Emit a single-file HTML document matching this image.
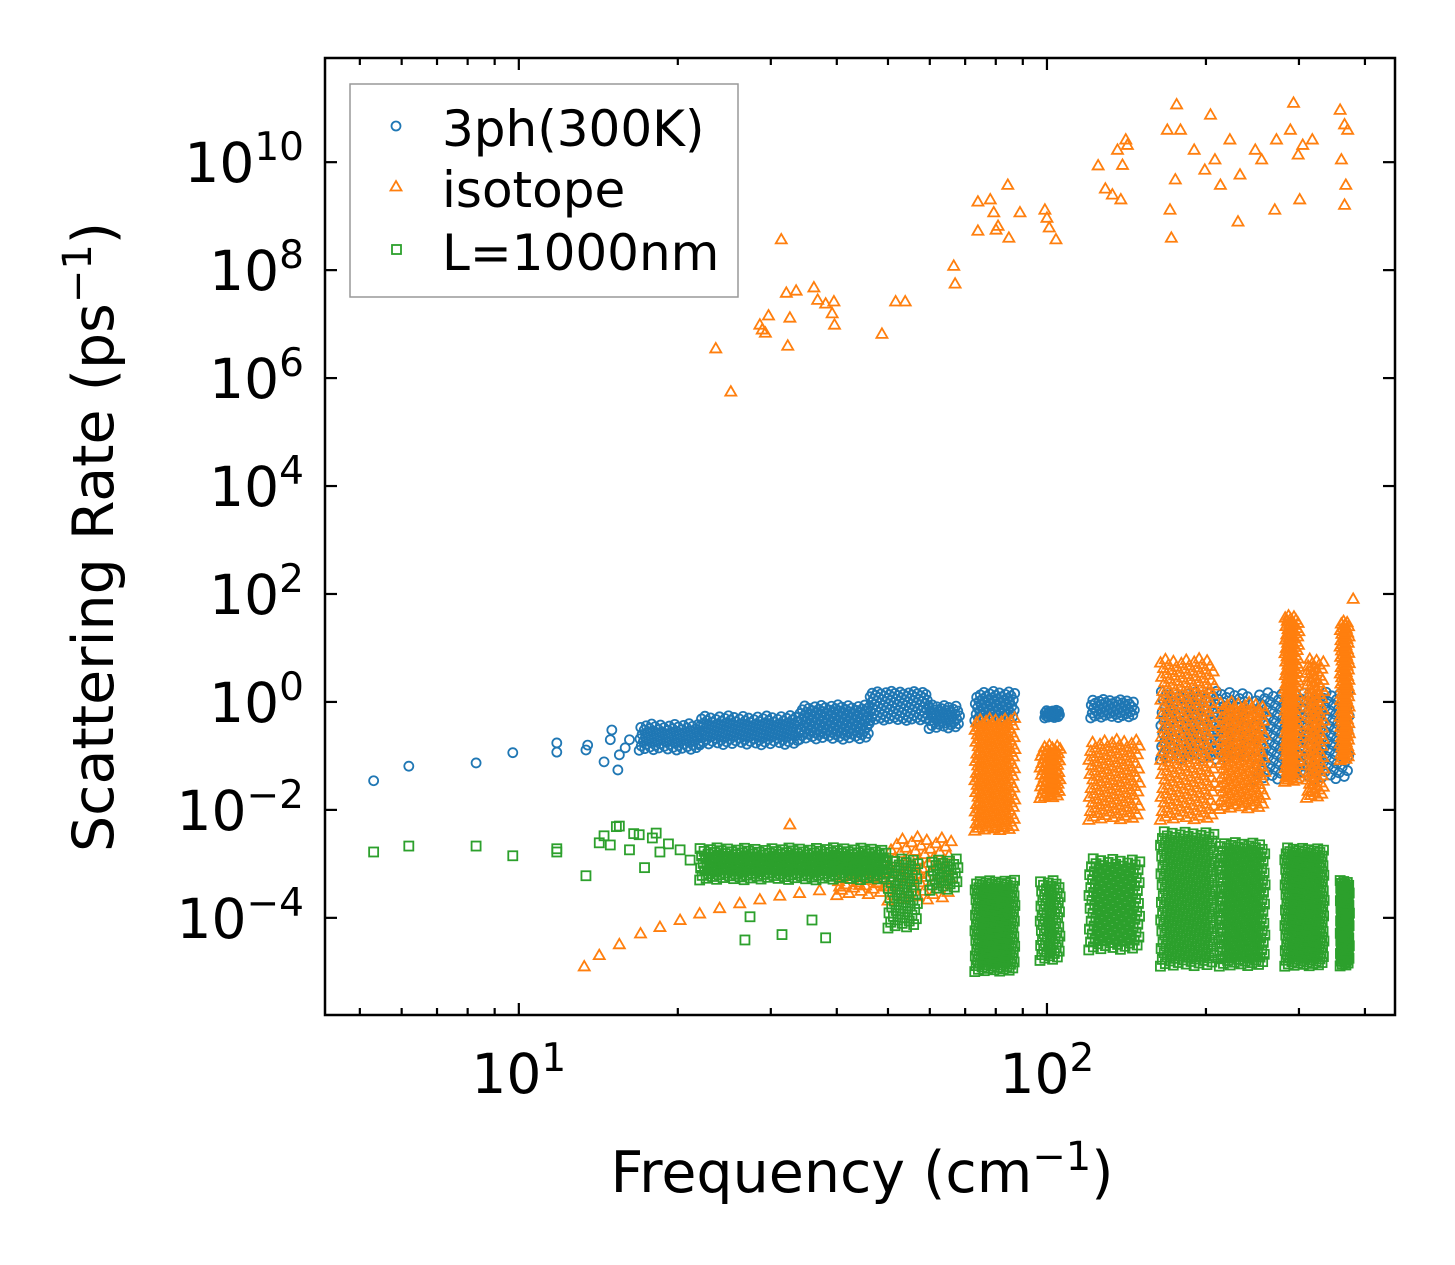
<!DOCTYPE html>
<html><head><meta charset="utf-8"><style>
html,body{margin:0;padding:0;background:#fff;}
svg{display:block;font-family:"DejaVu Sans","Liberation Sans",sans-serif;}
</style></head><body>
<svg id="chart" width="1455" height="1265" viewBox="0 0 1455 1265" xmlns="http://www.w3.org/2000/svg">
<rect x="0" y="0" width="1455" height="1265" fill="#fff"/>
<g id="marks"></g>
<g id="axes"></g>
<text x="0" y="0" transform="translate(113,537) rotate(-90)" text-anchor="middle" font-size="57">Scattering Rate (ps<tspan dy="-22" font-size="40">−1</tspan><tspan dy="22">)</tspan></text>
<text x="862" y="1192" text-anchor="middle" font-size="57">Frequency (cm<tspan dy="-22" font-size="40">−1</tspan><tspan dy="22">)</tspan></text>
<g>
<rect x="350" y="84" width="388" height="213" fill="#fff" stroke="#999" stroke-width="1.5"/>
<circle cx="396" cy="126" r="4.5" fill="none" stroke="#1f77b4" stroke-width="1.8"/>
<text x="442" y="146" font-size="50">3ph(300K)</text>
<polygon points="396,181 401.5,190.5 390.5,190.5" fill="none" stroke="#ff7f0e" stroke-width="1.8"/>
<text x="442" y="207" font-size="50">isotope</text>
<rect x="392" y="245" width="9" height="9" fill="none" stroke="#2ca02c" stroke-width="1.8"/>
<text x="442" y="270" font-size="50">L=1000nm</text>
</g>
</svg>
<script>
// ---- data (frequency cm^-1, log10 rate) ----
const xTickLabels = [1, 2];
const yTickExps = [-4, -2, 0, 2, 4, 6, 8, 10];
const blueFreq = [5.31,6.19,8.30,9.74,11.8,11.8,13.4,13.5,14.5,14.9,15.0,15.4,15.5,15.9,16.2];
const blueLog  = [-1.46,-1.19,-1.13,-0.94,-0.76,-0.93,-0.89,-0.80,-1.11,-0.70,-0.52,-1.26,-0.98,-0.85,-0.70];
// dense clusters: [fLo, fHi, logLo, logHi, count]
const blueBands = [[16.9,22,-0.9,-0.4,80],[22,34,-0.8,-0.25,140],[34,46.2,-0.7,-0.05,120],[46.2,59.8,-0.35,0.2,110],[59.8,68.5,-0.5,-0.05,40],[73,87,-0.35,0.2,60],[99,106,-0.3,-0.15,20],[121,147,-0.3,0.05,50],[164,242,-1.07,0.2,180],[248,374,-1.45,0.2,200]];
const orangeFreq = [23.6,25.2,31.4,28.9,28.6,29.3,29.7,32.6,32.1,33.5,32.3,36.2,36.8,38.1,39.5,39.6,39.2,48.7,51.7,53.9,66.6,67.0,74.0,74.0,78.1,79.3,80.1,80.8,84.3,84.7,88.9,99.1,100,101,104,125,129,133,136,138,139,141,142,169,171,172,175,176,179,190,199,204,208,213,222,230,232,248,255,270,272,289,293,299,301,305,318,359,361,366,368,366,371,
 13.3,14.2,15.5,17.0,18.5,20.2,22.0,24.0,26.2,28.6,31.2,34.0,37.1,40.5,44.2,48.2,52.6,57.4,62.6,32.6,380];
const orangeLog = [6.54,5.74,8.56,6.89,6.98,6.83,7.15,7.11,7.57,7.61,6.59,7.67,7.44,7.37,7.41,6.98,7.19,6.81,7.41,7.41,8.07,7.74,9.26,8.72,9.30,9.06,8.74,8.81,9.57,8.59,9.06,9.11,8.96,8.78,8.56,9.93,9.50,9.39,10.22,9.30,9.94,10.41,10.31,10.59,9.11,8.59,9.67,11.06,10.59,10.22,9.85,10.87,10.04,9.57,10.41,8.89,9.76,10.22,10.04,9.11,10.41,10.59,11.09,10.13,9.30,10.31,10.41,10.96,10.04,10.69,9.57,9.20,10.59,
 -4.91,-4.7,-4.5,-4.3,-4.18,-4.05,-3.93,-3.83,-3.74,-3.67,-3.6,-3.55,-3.5,-3.43,-3.4,-3.35,-3.25,-3.2,-3.05,-2.28,1.9];
const orangeBands = [[40,50,-3.6,-3.0,30],[50,66,-3.7,-2.5,60],[73,87,-2.4,-0.3,200],[97,106,-1.8,-0.8,60],[120,150,-2.2,-0.7,120],[164,208,-2.2,0.8,240],[212,259,-2.0,0.0,160],[282,300,-1.5,1.6,160],[310,335,-1.8,0.8,100],[359,374,-1.1,1.5,110]];
const greenFreq = [5.31,6.19,8.30,9.74,11.8,11.8,13.4,14.2,14.5,14.9,15.3,15.5,16.2,16.5,16.9,17.3,17.9,18.2,18.5,19.2,20.2,21.1,26.8,27.4,31.5,35.9,38.1];
const greenLog  = [-2.78,-2.67,-2.67,-2.85,-2.78,-2.72,-3.22,-2.61,-2.48,-2.65,-2.31,-2.30,-2.74,-2.44,-2.46,-3.07,-2.52,-2.43,-2.78,-2.63,-2.74,-2.93,-4.41,-3.98,-4.31,-4.04,-4.37];
const greenBands = [[22,50,-3.3,-2.7,240],[50,57,-4.2,-2.9,60],[60,68,-3.5,-2.9,30],[73,87,-5.0,-3.3,200],[97,106,-4.8,-3.3,70],[120,150,-4.6,-2.9,150],[164,208,-4.9,-2.4,260],[212,259,-4.9,-2.6,220],[282,335,-4.9,-2.7,260],[359,374,-4.9,-3.3,90]];

// ---- axes ----
const L=325,R=1395,T=58,B=1015;
const X0=0.633,X1=2.659,Y0=-5.80,Y1=11.93;
const xs = f => L + (Math.log10(f)-X0)/(X1-X0)*(R-L);
const ys = lg => B - (lg-Y0)/(Y1-Y0)*(B-T);
const NS='http://www.w3.org/2000/svg';
const marks=document.getElementById('marks');
const axes=document.getElementById('axes');
function mk(tag,attrs,parent){const e=document.createElementNS(NS,tag);for(const k in attrs)e.setAttribute(k,attrs[k]);parent.appendChild(e);return e;}

function drawMarker(kind,x,y,g){
  let e;
  if(kind==='circle'){e=mk('circle',{cx:x,cy:y,r:4.5,fill:'none',stroke:'#1f77b4','stroke-width':1.8},g);}
  else if(kind==='tri'){e=mk('polygon',{points:`${x},${y-6} ${x+5.5},${y+3.5} ${x-5.5},${y+3.5}`,fill:'none',stroke:'#ff7f0e','stroke-width':1.8},g);}
  else {e=mk('rect',{x:x-4.5,y:y-4.5,width:9,height:9,fill:'none',stroke:'#2ca02c','stroke-width':1.8},g);}
  
  
}
function drawSeries(kind,fr,lg,bands,name){
  const g=mk('g',{},marks);
  
  
  for(const b of bands){
    const [f0,f1,l0,l1,n]=b;
    for(let i=0;i<n;i++){
      const u=((i*0.618034)%1), v=((i+0.5)/n);
      const f=Math.pow(10,Math.log10(f0)+u*(Math.log10(f1)-Math.log10(f0)));
      drawMarker(kind,xs(f),ys(l0+v*(l1-l0)),g);
    }
  }
  for(let i=0;i<fr.length;i++) drawMarker(kind,xs(fr[i]),ys(lg[i]),g);
}
drawSeries('circle',blueFreq,blueLog,blueBands,'series-3ph');
drawSeries('tri',orangeFreq,orangeLog,orangeBands,'series-isotope');
drawSeries('square',greenFreq,greenLog,greenBands,'series-boundary');

// frame
const fr=mk('rect',{x:L,y:T,width:R-L,height:B-T,fill:'none',stroke:'#000','stroke-width':2.5},axes);


for(let d=0;d<=2;d++){
  for(let m=1;m<=9;m++){
    const f=m*Math.pow(10,d); const lg=Math.log10(f);
    if(lg<X0||lg>X1) continue;
    const x=xs(f), len=(m===1)?12:7;
    const t1=mk('line',{x1:x,y1:B,x2:x,y2:B-len,stroke:'#000','stroke-width':2.2},axes);
    
    
    const t2=mk('line',{x1:x,y1:T,x2:x,y2:T+len,stroke:'#000','stroke-width':2.2},axes);
    
    
  }
}
for(const e of xTickLabels){
  const x=xs(Math.pow(10,e));
  const t=mk('text',{x:x,y:1093,'text-anchor':'middle','font-size':55},axes);
  
  
  t.innerHTML='10<tspan dy="-22" font-size="39">'+e+'</tspan>';
}
for(const e of yTickExps){
  const y=ys(e);
  const a=mk('line',{x1:L,y1:y,x2:L+12,y2:y,stroke:'#000','stroke-width':2.2},axes);
  
  
  const b=mk('line',{x1:R,y1:y,x2:R-12,y2:y,stroke:'#000','stroke-width':2.2},axes);
  
  
  const t=mk('text',{x:304,y:y+20,'text-anchor':'end','font-size':55},axes);
  
  
  const s=(e<0?'−':'')+Math.abs(e);
  t.innerHTML='10<tspan dy="-22" font-size="39">'+s+'</tspan>';
}
</script>
</body></html>
